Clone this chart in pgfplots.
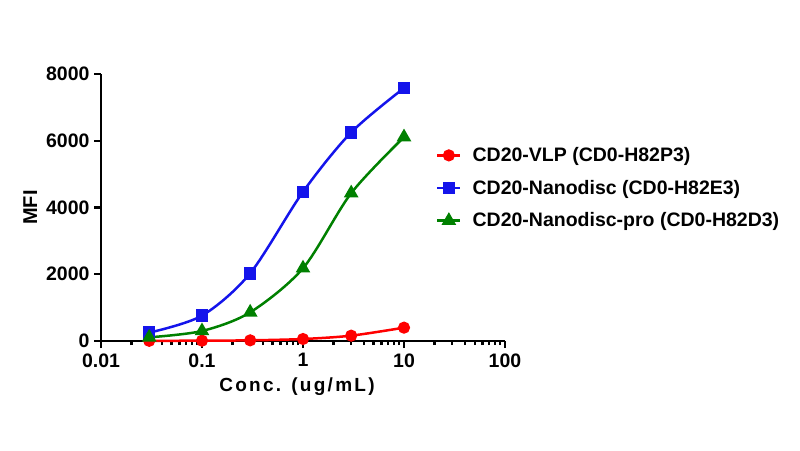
\documentclass[border=0pt]{standalone}
\usepackage{fontspec}
\setmainfont{Liberation Sans}
\usepackage{pgfplots}
\pgfplotsset{compat=1.18}

\definecolor{vlpred}{RGB}{255,0,0}
\definecolor{ndblue}{RGB}{20,20,235}
\definecolor{ndgreen}{RGB}{0,128,0}

\begin{document}
\begin{tikzpicture}[x=1pt,y=1pt]
\useasboundingbox (0,0) rectangle (800,450);
\begin{axis}[
  at={(101pt,109pt)}, anchor=south west,
  scale only axis, width=404pt, height=267pt,
  xmode=log, xmin=0.01, xmax=100,
  ymin=0, ymax=8000,
  axis lines=left,
  axis line style={-, line width=2.8pt},
  every tick/.style={black, line width=2.2pt},
  tick align=outside,
  major tick length=7pt, minor tick length=4pt,
  xtick={0.01,0.1,1,10,100},
  xticklabels={0.01,0.1,1,10,100},
  ytick={0,2000,4000,6000,8000},
  minor ytick={},
  /pgf/number format/1000 sep={},
  /pgf/number format/assume math mode=true,
  tick label style={font=\fontsize{19.5}{21}\selectfont\bfseries},
  xticklabel style={yshift=-2pt},
  yticklabel style={xshift=-1pt},
  xlabel={Conc. (ug/mL)},
  ylabel={MFI},
  xlabel style={font=\fontsize{19}{21}\selectfont\bfseries\addfontfeature{LetterSpace=12},
    yshift=-4pt, xshift=-6pt},
  ylabel style={font=\fontsize{20}{22}\selectfont\bfseries, yshift=2pt},
  clip=false,
  legend cell align=left,
  legend style={
    at={(0.829,0.573)}, anchor=west,
    draw=none, fill=none, inner sep=0pt,
    row sep=17pt, column sep=5pt,
    font=\fontsize{19.5}{21}\selectfont\bfseries,
    nodes={inner xsep=6pt, inner ysep=0pt},
  },
  legend image code/.code={%
    \draw[mark repeat=2, mark phase=2, line width=2.5pt]
      plot coordinates {(0pt,0pt) (11.5pt,0pt) (23pt,0pt)};},
]
\addplot[vlpred, line width=2.5pt, smooth, mark=*, mark size=4.8pt,
  mark options={solid}] coordinates {
  (0.03,5) (0.1,10) (0.3,20) (1,60) (3,160) (10,400)};
\addlegendentry{CD20-VLP (CD0-H82P3)}
\addplot[ndblue, line width=2.5pt, smooth, mark=square*, mark size=5pt,
  mark options={solid}] coordinates {
  (0.03,250) (0.1,760) (0.3,2030) (1,4470) (3,6250) (10,7580)};
\addlegendentry{CD20-Nanodisc (CD0-H82E3)}
\addplot[ndgreen, line width=2.5pt, smooth, mark=triangle*, mark size=6pt,
  mark options={solid}] coordinates {
  (0.03,110) (0.1,300) (0.3,860) (1,2180) (3,4430) (10,6110)};
\addlegendentry{CD20-Nanodisc-pro (CD0-H82D3)}
\end{axis}
\end{tikzpicture}
\end{document}
